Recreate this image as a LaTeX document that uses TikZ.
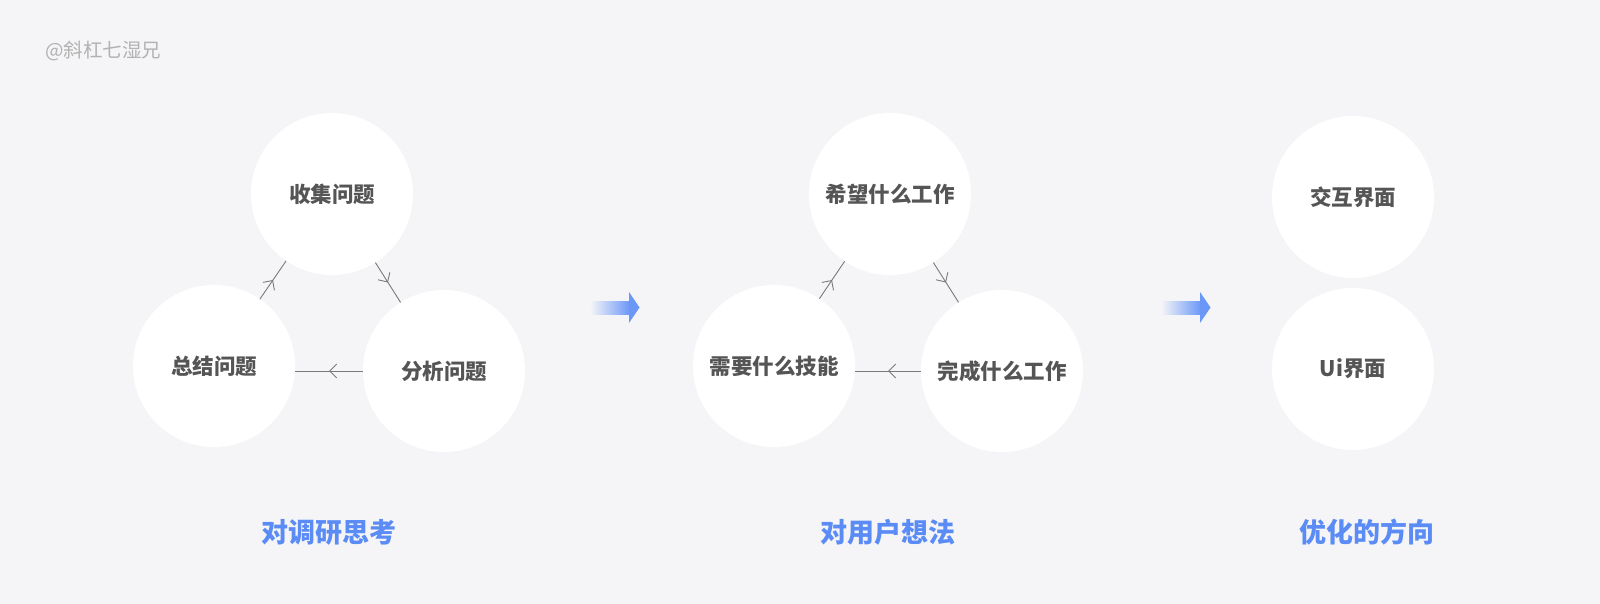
\documentclass[tikz,border=0pt]{standalone}
\usepackage{fontspec}
\setmainfont{Noto Sans CJK SC}
\usetikzlibrary{arrows.meta,decorations.markings}
\definecolor{bg}{HTML}{F5F5F7}
\definecolor{txtgray}{HTML}{555555}
\definecolor{lanse}{HTML}{5B8CF6}
\definecolor{xiangray}{HTML}{7A7A7A}

\begin{document}
\begin{tikzpicture}[x=1pt,y=-1pt]
  % 定义样式
  \tikzstyle{bubble}=[circle,fill=white,minimum size=162pt,inner sep=0pt,text=txtgray,font=\fontsize{21.5}{24}\selectfont\bfseries]
  \tikzstyle{cycle line}=[draw=xiangray,line width=0.9pt,postaction={decorate},
    decoration={markings,mark=at position 0.5 with {\arrow{Straight Barb[length=7pt,width=14pt]}}}]
  \tikzstyle{title text}=[text=lanse,inner sep=0pt,font=\fontsize{27}{30}\selectfont\bfseries]

  % 背景
  \fill[bg] (0,0) rectangle (1600,604);
  \useasboundingbox (0,0) rectangle (1600,604);
  \node[text=black!30,inner sep=0pt,anchor=west,font=\fontsize{19.5}{22}\selectfont] (mark) at (45,51) {@斜杠七湿兄};

  % 第一组：调研思考
  \node[bubble] (shouji) at (332,194) {收集问题};
  \node[bubble] (zongjie) at (214,366) {总结问题};
  \node[bubble] (fenxi) at (444,371) {分析问题};
  \draw[cycle line] (zongjie) -- (shouji);
  \draw[cycle line] (shouji) -- (fenxi);
  \draw[cycle line] (fenxi.west) -- (zongjie.east |- fenxi.west);
  \node[title text] (t1) at (329,532) {对调研思考};

  % 箭头
  \shade[left color=bg,right color=lanse!90] (590,301) rectangle (630,314);
  \fill[lanse!90] (629,292) -- (639.5,307.5) -- (629,323) -- cycle;

  % 第二组：用户想法
  \node[bubble] (xiwang) at (890,194) {希望什么工作};
  \node[bubble] (xuyao) at (774,366) {需要什么技能};
  \node[bubble] (wancheng) at (1002,371) {完成什么工作};
  \draw[cycle line] (xuyao) -- (xiwang);
  \draw[cycle line] (xiwang) -- (wancheng);
  \draw[cycle line] (wancheng.west) -- (xuyao.east |- wancheng.west);
  \node[title text] (t2) at (888,532) {对用户想法};

  % 箭头
  \shade[left color=bg,right color=lanse!90] (1161,301) rectangle (1201,314);
  \fill[lanse!90] (1200,292) -- (1210.5,307.5) -- (1200,323) -- cycle;

  % 第三组：优化方向
  \node[bubble] (jiaohu) at (1353,197) {交互界面};
  \node[bubble] (ui) at (1353,369) {Ui界面};
  \node[title text] (t3) at (1367,532) {优化的方向};
\end{tikzpicture}
\end{document}
